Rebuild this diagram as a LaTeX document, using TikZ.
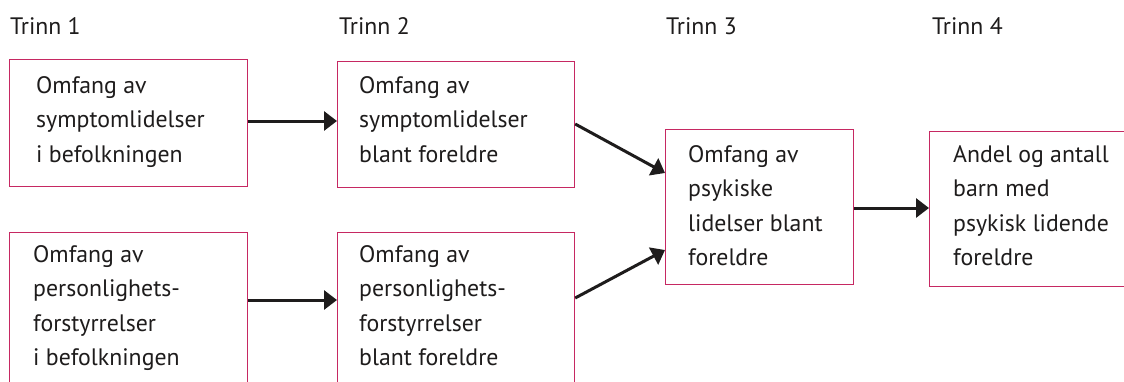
\documentclass[tikz,border=0pt]{standalone}
\usepackage{fontspec}
\setmainfont{PT Sans}
\usetikzlibrary{arrows.meta}
\definecolor{boxline}{RGB}{198,40,98}
\definecolor{ink}{RGB}{30,28,28}
\tikzset{
  stagebox/.style={draw=boxline, line width=1.2pt, rectangle, inner sep=0pt, anchor=north west},
  boxtext/.style={anchor=north west, inner sep=0pt, align=left, text=ink, font=\fontsize{23.8}{34.5}\selectfont},
  header/.style={anchor=base west, inner sep=0pt, text=ink, font=\fontsize{23.8}{28}\selectfont},
  flow/.style={draw=ink, line width=3pt, -{Triangle[length=13pt,width=19pt]}}
}
\newcommand{\firstline}{\rule{0pt}{20pt}}
\begin{document}
\begin{tikzpicture}[x=1pt,y=-1pt]
\useasboundingbox (0,0) rectangle (1124,381);
\clip (0,0) rectangle (1124,381);
\fill[white] (0,0) rectangle (1124,381);
% headers
\node[header] (h1) at (10,34) {Trinn 1};
\node[header] (h2) at (339,34) {Trinn 2};
\node[header] (h3) at (666,34) {Trinn 3};
\node[header] (h4) at (932,34) {Trinn 4};
% boxes
\node[stagebox, minimum width=238pt, minimum height=127pt] (b1) at (9,59) {};
\node[stagebox, minimum width=237pt, minimum height=126pt] (b2) at (337,61) {};
\node[stagebox, minimum width=238pt, minimum height=170pt] (b1b) at (9,232) {};
\node[stagebox, minimum width=237pt, minimum height=170pt] (b2b) at (337,232) {};
\node[stagebox, minimum width=188pt, minimum height=155pt] (b3) at (665,129) {};
\node[stagebox, minimum width=210pt, minimum height=155pt] (b4) at (929,131) {};
% texts
\node[boxtext] (t1) at (36,73) {\firstline Omfang av\\symptomlidelser\\i befolkningen};
\node[boxtext] (t2) at (359,73) {\firstline Omfang av\\symptomlidelser\\blant foreldre};
\node[boxtext] (t1b) at (33,242) {\firstline Omfang av\\personlighets-\\forstyrrelser\\i befolkningen};
\node[boxtext] (t2b) at (359,242) {\firstline Omfang av\\personlighets-\\forstyrrelser\\blant foreldre};
\node[boxtext] (t3) at (688,142) {\firstline Omfang av\\psykiske\\lidelser blant\\foreldre};
\node[boxtext] (t4) at (953,142) {\firstline Andel og antall\\barn med\\psykisk lidende\\foreldre};
% connectors
\draw[flow] ([yshift=-62pt]b1.north east) -- ([yshift=-62pt]b1.north east -| b2.west);
\draw[flow] ([yshift=-68pt]b1b.north east) -- ([yshift=-68pt]b1b.north east -| b2b.west);
\draw[flow] ([yshift=-63pt]b2.north east) -- ([yshift=-44pt]b3.north west);
\draw[flow] ([yshift=-66pt]b2b.north east) -- ([yshift=-121pt]b3.north west);
\draw[flow] ([yshift=-79pt]b3.north east) -- ([yshift=-79pt]b3.north east -| b4.west);
\end{tikzpicture}
\end{document}
